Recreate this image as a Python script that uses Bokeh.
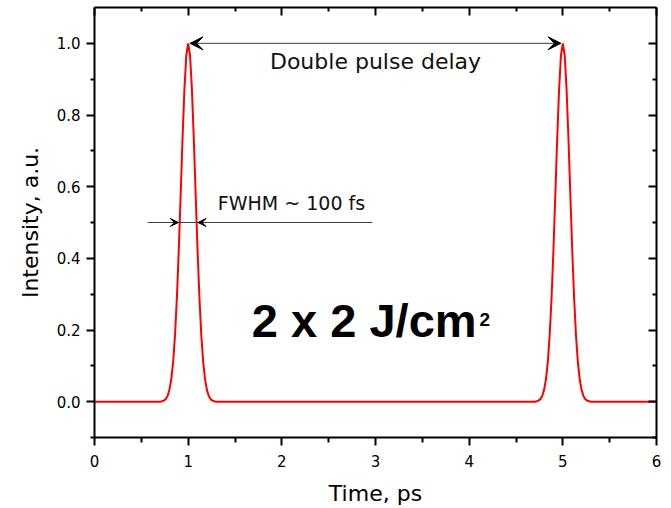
from bokeh.plotting import figure
from bokeh.models import (LinearAxis, FixedTicker, PrintfTickFormatter, Arrow,
                          VeeHead, Range1d, Label, CustomLabelingPolicy)
from bokeh.embed import file_html
from bokeh.resources import INLINE

# ---- data ----
time_ps = [0.0, 0.70, 0.72, 0.74, 0.76, 0.78, 0.80, 0.82, 0.84, 0.86, 0.88,
           0.90, 0.92, 0.94, 0.96, 0.98, 1.00, 1.02, 1.04, 1.06, 1.08, 1.10,
           1.12, 1.14, 1.16, 1.18, 1.20, 1.22, 1.24, 1.26, 1.28, 1.30,
           4.70, 4.72, 4.74, 4.76, 4.78, 4.80, 4.82, 4.84, 4.86, 4.88,
           4.90, 4.92, 4.94, 4.96, 4.98, 5.00, 5.02, 5.04, 5.06, 5.08, 5.10,
           5.12, 5.14, 5.16, 5.18, 5.20, 5.22, 5.24, 5.26, 5.28, 5.30, 6.0]
intensity = [0.0, 0.0, 0.001, 0.003, 0.007, 0.016, 0.033, 0.063, 0.112, 0.187, 0.292,
             0.425, 0.579, 0.735, 0.872, 0.966, 1.000, 0.966, 0.872, 0.735, 0.579, 0.425,
             0.292, 0.187, 0.112, 0.063, 0.033, 0.016, 0.007, 0.003, 0.001, 0.0,
             0.0, 0.001, 0.003, 0.007, 0.016, 0.033, 0.063, 0.112, 0.187, 0.292,
             0.425, 0.579, 0.735, 0.872, 0.966, 1.000, 0.966, 0.872, 0.735, 0.579, 0.425,
             0.292, 0.187, 0.112, 0.063, 0.033, 0.016, 0.007, 0.003, 0.001, 0.0, 0.0]

x_ticks = [0, 1, 2, 3, 4, 5, 6]
x_minor = [0.5, 1.5, 2.5, 3.5, 4.5, 5.5]
y_ticks = [0.0, 0.2, 0.4, 0.6, 0.8, 1.0]
y_minor = [-0.1, 0.1, 0.3, 0.5, 0.7, 0.9]

x_label = "Time, ps"
y_label = "Intensity, a.u."
delay_text = "Double pulse delay"
fwhm_text = "FWHM ~ 100 fs"
fluence_text = "2 x 2 J/cm"
fluence_sup = "2"

# annotation anchors (data units)
delay_arrow = (1.02, 4.98, 1.0)
fwhm_line = (0.566, 2.967, 0.5)
fwhm_tips = (0.895, 1.105)

FONT = "DejaVu Sans"

p = figure(width=671, height=508, output_backend="svg", toolbar_location=None,
           x_range=Range1d(0, 6), y_range=Range1d(-0.1, 1.1),
           x_axis_location=None, y_axis_location=None,
           min_border_left=94, min_border_right=15, min_border_top=7,
           min_border_bottom=71)
p.grid.visible = False
p.outline_line_color = None
p.background_fill_color = "white"
p.border_fill_color = "white"

HIDE_CODE = """
try {
  return new indices.constructor(indices.size);
} catch (e) {
  return indices;
}
"""


def style(ax, inward, labels):
    ax.axis_line_width = 2
    ax.axis_line_color = "black"
    ax.major_tick_line_width = 2
    ax.minor_tick_line_width = 2
    ax.major_tick_line_color = "black"
    ax.minor_tick_line_color = "black"
    if inward:
        ax.major_tick_in, ax.major_tick_out = 8, 0
        ax.minor_tick_in, ax.minor_tick_out = 4, 0
    else:
        ax.major_tick_in, ax.major_tick_out = 0, 8
        ax.minor_tick_in, ax.minor_tick_out = 0, 5
    if not labels:
        ax.major_label_policy = CustomLabelingPolicy(code=HIDE_CODE)
        ax.major_label_text_font_size = "0px"
        ax.major_label_standoff = 0
    else:
        ax.major_label_text_font = FONT
        ax.major_label_text_font_size = "15px"
        ax.major_label_text_color = "black"


xt = FixedTicker(ticks=x_ticks, minor_ticks=x_minor)
yt = FixedTicker(ticks=y_ticks, minor_ticks=y_minor)

bottom = LinearAxis(ticker=xt, formatter=PrintfTickFormatter(format="%d"),
                    axis_label=x_label)
style(bottom, False, True)
bottom.major_label_standoff = 9
bottom.axis_label_text_font = FONT
bottom.axis_label_text_font_size = "22px"
bottom.axis_label_text_font_style = "normal"
bottom.axis_label_text_color = "black"
bottom.axis_label_standoff = 11
p.add_layout(bottom, "below")

left = LinearAxis(ticker=yt, formatter=PrintfTickFormatter(format="%.1f"),
                  axis_label=y_label)
style(left, False, True)
left.minor_tick_out = 4
left.major_label_standoff = 6
left.axis_label_text_font = FONT
left.axis_label_text_font_size = "22px"
left.axis_label_text_font_style = "normal"
left.axis_label_text_color = "black"
left.axis_label_standoff = 11
p.add_layout(left, "left")

top = LinearAxis(ticker=xt, formatter=PrintfTickFormatter(format="%d"))
style(top, True, False)
p.add_layout(top, "above")

right = LinearAxis(ticker=yt, formatter=PrintfTickFormatter(format="%.1f"))
style(right, True, False)
p.add_layout(right, "right")

# curve
p.line(time_ps, intensity, line_color="#ff0000", line_width=2)

# double pulse delay arrow
x0, x1, yy = delay_arrow
p.add_layout(Arrow(x_start=x0, y_start=yy, x_end=x1, y_end=yy,
                   line_color="#404040", line_width=1,
                   start=VeeHead(size=13, fill_color="black", line_color="black", line_width=1),
                   end=VeeHead(size=13, fill_color="black", line_color="black", line_width=1)))
p.add_layout(Label(x=3.0, y=0.950, text=delay_text, text_align="center",
                   text_baseline="alphabetic", text_font=FONT,
                   text_font_size="22px", text_color="#111111"))

# FWHM marker
fx0, fx1, fy = fwhm_line
p.segment(x0=[fx0], y0=[fy], x1=[fx1], y1=[fy], line_color="#404040", line_width=1)
p.add_layout(Arrow(x_start=fx0, y_start=fy, x_end=fwhm_tips[0], y_end=fy,
                   line_alpha=0,
                   end=VeeHead(size=8, fill_color="black", line_color="black", line_width=1)))
p.add_layout(Arrow(x_start=fx1, y_start=fy, x_end=fwhm_tips[1], y_end=fy,
                   line_alpha=0,
                   end=VeeHead(size=8, fill_color="black", line_color="black", line_width=1)))
p.add_layout(Label(x=1.317, y=0.554, text=fwhm_text, text_align="left",
                   text_baseline="alphabetic", text_font=FONT,
                   text_font_size="19px", text_color="#111111"))

# fluence label
p.add_layout(Label(x=1.68, y=0.2254, text=fluence_text, text_align="left",
                   text_baseline="alphabetic", text_font="Liberation Sans",
                   text_font_size="47px", text_font_style="bold",
                   text_color="black"))
p.add_layout(Label(x=4.11, y=0.2285, text=fluence_sup, text_align="left",
                   text_baseline="alphabetic", text_font="Liberation Sans",
                   text_font_size="19px", text_font_style="bold",
                   text_color="black"))

open("out.html", "w").write(file_html(p, INLINE))
